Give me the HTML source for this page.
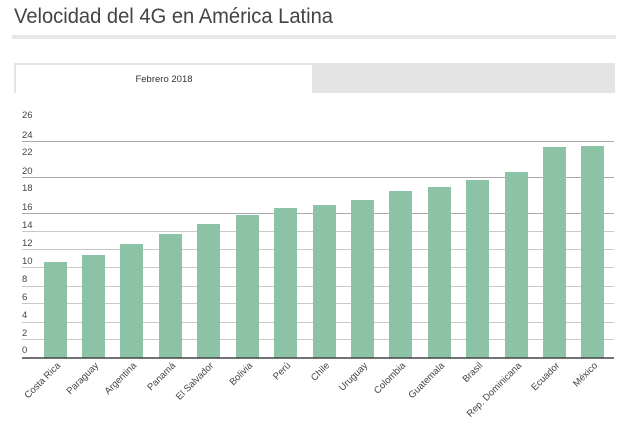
<!DOCTYPE html>
<html><head><meta charset="utf-8"><style>
body{margin:0;background:#fff;width:634px;height:439px;overflow:hidden}
</style></head><body>
<svg width="634" height="439" xmlns="http://www.w3.org/2000/svg" font-family="Liberation Sans, sans-serif">
<text x="14" y="23" font-size="21" fill="#444" textLength="319" lengthAdjust="spacingAndGlyphs">Velocidad del 4G en América Latina</text>
<rect x="12" y="35" width="604" height="4" fill="#e6e6e6"/>
<rect x="14" y="63" width="601" height="30" fill="#e4e4e4"/>
<rect x="16" y="65" width="296" height="28" fill="#fff"/>
<text x="164" y="82" font-size="9.5" fill="#333" text-anchor="middle">Febrero 2018</text>
<g stroke="#c8c8c8" stroke-width="1">
<line x1="22" x2="614" y1="249.5" y2="249.5"/><line x1="22" x2="614" y1="267.5" y2="267.5"/>
<line x1="22" x2="614" y1="286.5" y2="286.5"/><line x1="22" x2="614" y1="303.5" y2="303.5"/>
<line x1="22" x2="614" y1="322.5" y2="322.5"/><line x1="22" x2="614" y1="339.5" y2="339.5"/>
<line x1="22" x2="614" y1="231.5" y2="231.5"/>
</g>
<g stroke="#aaa" stroke-width="1">
<line x1="22" x2="614" y1="141.5" y2="141.5"/><line x1="22" x2="614" y1="177.5" y2="177.5"/><line x1="22" x2="614" y1="213.5" y2="213.5"/>
</g>
<g font-size="9.5" fill="#444">
<text x="22" y="118">26</text><text x="22" y="138">24</text><text x="22" y="155">22</text><text x="22" y="174">20</text>
<text x="22" y="191">18</text><text x="22" y="210">16</text><text x="22" y="228">14</text><text x="22" y="246">12</text>
<text x="22" y="264">10</text><text x="22" y="282">8</text><text x="22" y="300">6</text><text x="22" y="318">4</text>
<text x="22" y="336">2</text><text x="22" y="353">0</text>
</g>
<g fill="#8cc2a5">
<rect x="44" y="262" width="23" height="96"/><rect x="82" y="255" width="23" height="103"/>
<rect x="120" y="244" width="23" height="114"/><rect x="159" y="234" width="23" height="124"/>
<rect x="197" y="224" width="23" height="134"/><rect x="236" y="215" width="23" height="143"/>
<rect x="274" y="208" width="23" height="150"/><rect x="313" y="205" width="23" height="153"/>
<rect x="351" y="200" width="23" height="158"/><rect x="389" y="191" width="23" height="167"/>
<rect x="428" y="187" width="23" height="171"/><rect x="466" y="180" width="23" height="178"/>
<rect x="505" y="172" width="23" height="186"/><rect x="543" y="147" width="23" height="211"/>
<rect x="581" y="146" width="23" height="212"/>
</g>
<line x1="22" x2="614" y1="358" y2="358" stroke="#444" stroke-width="1.5"/>
<g font-size="9.5" fill="#444" text-anchor="end">
<text transform="translate(61,366) rotate(-45)">Costa Rica</text>
<text transform="translate(99,366) rotate(-45)">Paraguay</text>
<text transform="translate(137,366) rotate(-45)">Argentina</text>
<text transform="translate(176,366) rotate(-45)">Panamá</text>
<text transform="translate(214,366) rotate(-45)">El Salvador</text>
<text transform="translate(253,366) rotate(-45)">Bolivia</text>
<text transform="translate(291,366) rotate(-45)">Perú</text>
<text transform="translate(330,366) rotate(-45)">Chile</text>
<text transform="translate(368,366) rotate(-45)">Uruguay</text>
<text transform="translate(406,366) rotate(-45)">Colombia</text>
<text transform="translate(445,366) rotate(-45)">Guatemala</text>
<text transform="translate(483,366) rotate(-45)">Brasil</text>
<text transform="translate(522,366) rotate(-45)">Rep. Dominicana</text>
<text transform="translate(560,366) rotate(-45)">Ecuador</text>
<text transform="translate(598,366) rotate(-45)">México</text>
</g>
</svg>
</body></html>
